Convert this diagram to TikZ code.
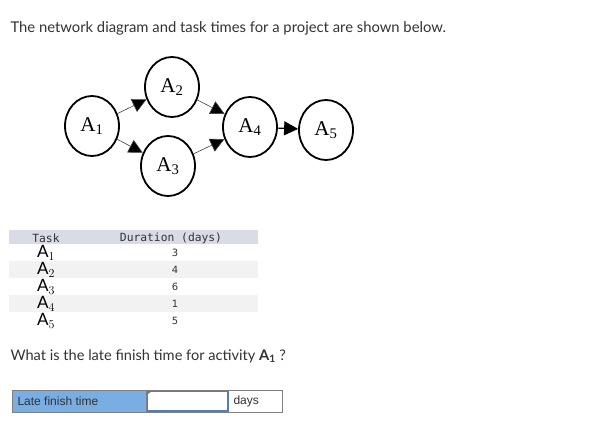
\documentclass[tikz,border=0pt]{standalone}
\usepackage{fontspec}
\setmainfont{Lato}
\newfontfamily\serifA{Liberation Serif}
\newfontfamily\arialA{Liberation Sans}
\newfontfamily\monoA{DejaVu Sans Mono}
\newfontfamily\digitA{DejaVu Sans}
\usetikzlibrary{shapes.geometric,arrows.meta}
\definecolor{textgray}{HTML}{333333}
\definecolor{headbar}{HTML}{D9DCE6}
\definecolor{stripe}{HTML}{F2F2F2}
\definecolor{lfblue}{HTML}{78AEE4}
\definecolor{inborder}{HTML}{4F7FB5}
\tikzset{
  act/.style={shape=ellipse,draw=black,line width=1.8pt,minimum width=54pt,minimum height=60pt,inner sep=0pt,font=\fontsize{21}{21}\serifA},
  link/.style={-{Triangle[length=14pt,width=14pt]},line width=0.6pt,draw=black!75},
}
\begin{document}
\begin{tikzpicture}[x=1pt,y=-1pt]
    \useasboundingbox[fill=white] (0,0) rectangle (591,435);
    \node[anchor=west,text=textgray,font=\fontsize{14.8}{17}\selectfont] (title) at (7,28) {The network diagram and task times for a project are shown below.};
    % network
    \node[act] (a1) at (92,126) {A\textsubscript{1}};
    \node[act] (a2) at (172,87) {A\textsubscript{2}};
    \node[act] (a3) at (168,166) {A\textsubscript{3}};
    \node[act] (a4) at (250,127) {A\textsubscript{4}};
    \node[act] (a5) at (326,130) {A\textsubscript{5}};
    \path [link] (a1) edge (a2);
    \path [link] (a1) edge (a3);
    \path [link] (a2) edge (a4);
    \path [link] (a3) edge (a4);
    \path [link] (a4) edge[line width=1.2pt,draw=black] (a5);
    % table
    \fill[headbar] (9,230) rectangle (258,244);
    \fill[stripe] (9,261) rectangle (258,278);
    \fill[stripe] (9,295) rectangle (258,312);
    \node[font=\fontsize{11.3}{12}\monoA,text=textgray,inner sep=0pt] (taskhead) at (46,238) {Task};
    \node[font=\fontsize{11.3}{12}\monoA,text=textgray,inner sep=0pt] (durhead) at (171,238) {Duration (days)};
    \foreach \i/\d [count=\k from 0] in {1/3,2/4,3/6,4/1,5/5} {
      \node[font=\fontsize{17}{17}\selectfont,inner sep=0pt] (task\i) at (46,253+17*\k) {$\mathrm{A}_{\i}$};
      \node[font=\fontsize{10}{12}\digitA,text=textgray] (dur\i) at (175,253+17*\k) {\d};
    }
    % question
    \node[anchor=west,text=textgray,font=\fontsize{14.6}{16}\selectfont] (question) at (7,356) {What is the late finish time for activity $\mathbf{A_1}$ ?};
    % answer box
    \fill[lfblue] (12,390) rectangle (146,412);
    \draw[line width=1.2pt,inborder] (147,391) rectangle (228,411);
    \draw[line width=1pt,black!50] (12,390) rectangle (282,412);
    \draw[line width=0.8pt,black!50] (146,390) -- (146,412);
    \fill[inborder] (148,391) -- (152,391) -- (148,394) -- cycle;
    \node[anchor=west,font=\fontsize{12}{14}\arialA,text=textgray] (lflabel) at (14,401) {Late finish time};
    \node[anchor=west,font=\fontsize{12}{14}\arialA,text=textgray] (dayslabel) at (230,401) {days};
\end{tikzpicture}
\end{document}
